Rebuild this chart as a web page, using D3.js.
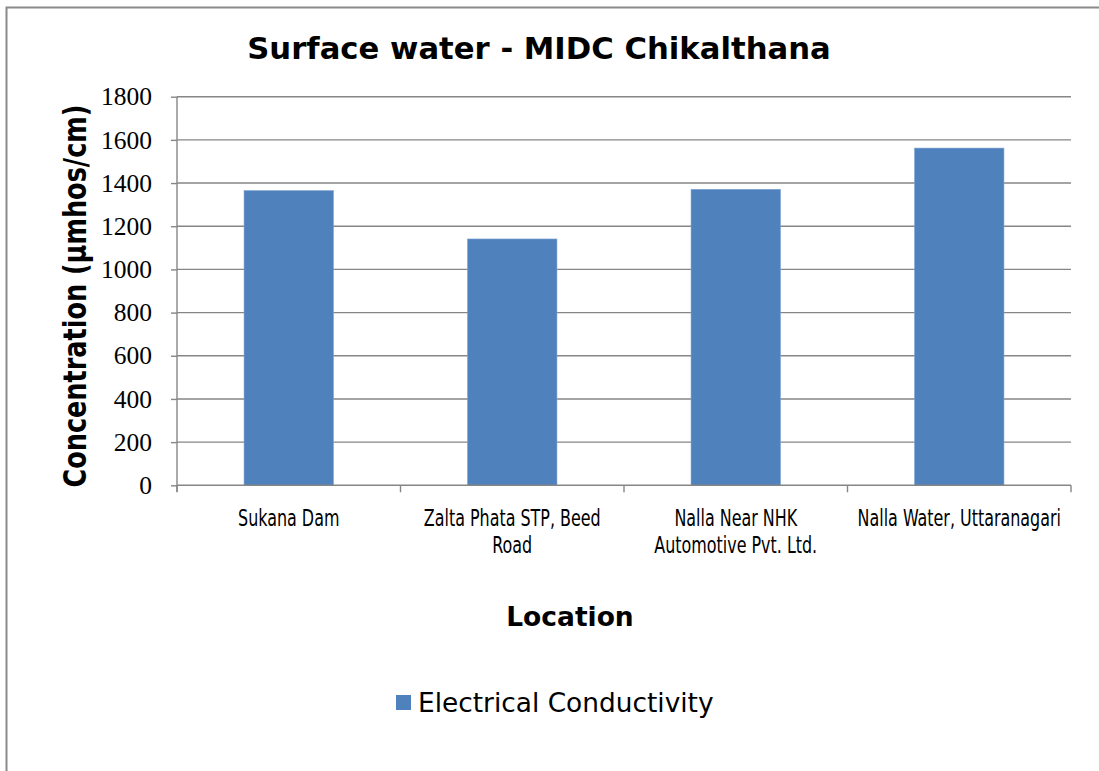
<!DOCTYPE html>
<html>
<head>
<meta charset="utf-8">
<script src="https://cdn.jsdelivr.net/npm/d3@7"></script>
<style>
  html, body { margin: 0; padding: 0; background: #ffffff; }
  svg { display: block; }
</style>
</head>
<body>
<script>
// Sampling locations and measured electrical conductivity (µmhos/cm)
const locations = [
  ["Sukana Dam"],
  ["Zalta Phata STP, Beed", "Road"],
  ["Nalla Near NHK", "Automotive Pvt. Ltd."],
  ["Nalla Water, Uttaranagari"]
];
const conductivity = [1365, 1141, 1371, 1562];
const yTicks = [0, 200, 400, 600, 800, 1000, 1200, 1400, 1600, 1800];
const seriesName = "Electrical Conductivity";
const chartTitle = "Surface water - MIDC Chikalthana";
const xTitle = "Location";
const yTitle = "Concentration (µmhos/cm)";

const W = 1099, H = 771;
const plot = { left: 177, right: 1071, top: 96.7, bottom: 485.3 };
const barColor = "#4F81BD";
const gridColor = "#868686";

const svg = d3.select("body").append("svg")
  .attr("width", W).attr("height", H);

// Chart frame
svg.append("rect")
  .attr("x", 6.5).attr("y", 7.5)
  .attr("width", W + 10).attr("height", H + 10)
  .attr("fill", "#fff")
  .attr("stroke", "#8a8a8a").attr("stroke-width", 2);

const x = d3.scaleBand()
  .domain(d3.range(locations.length))
  .range([plot.left, plot.right])
  .paddingInner(0.6).paddingOuter(0.3);

const y = d3.scaleLinear()
  .domain([0, 1800])
  .range([plot.bottom, plot.top]);

// Horizontal gridlines
svg.append("g").selectAll("line")
  .data(yTicks.filter(t => t > 0))
  .join("line")
  .attr("x1", plot.left).attr("x2", plot.right)
  .attr("y1", d => y(d)).attr("y2", d => y(d))
  .attr("stroke", gridColor).attr("stroke-width", 1.4);

// Bars
svg.append("g").selectAll("rect")
  .data(conductivity)
  .join("rect")
  .attr("x", (d, i) => x(i))
  .attr("width", x.bandwidth())
  .attr("y", d => y(d))
  .attr("height", d => y(0) - y(d))
  .attr("fill", barColor)
  .attr("stroke", "#7fa3d2").attr("stroke-width", 0.6);

// Y axis
const yAxis = d3.axisLeft(y).tickValues(yTicks).tickSize(6).tickPadding(19)
  .tickFormat(d3.format("d"));
const gy = svg.append("g")
  .attr("transform", `translate(${plot.left},0)`)
  .call(yAxis);
gy.select(".domain").remove();
gy.append("line")
  .attr("x1", 0).attr("x2", 0)
  .attr("y1", plot.top).attr("y2", plot.bottom + 6.5)
  .attr("stroke", gridColor).attr("stroke-width", 1.4);
gy.selectAll(".tick line").attr("stroke", gridColor).attr("stroke-width", 1.4);
gy.selectAll(".tick text")
  .attr("fill", "#000")
  .style("font-family", "'Liberation Serif', 'DejaVu Serif', serif")
  .style("font-size", "25.5px");

// X axis baseline and category boundary ticks
const step = x.step();
const boundaries = d3.range(locations.length + 1).map(i => plot.left + i * step);
svg.append("line")
  .attr("x1", plot.left).attr("x2", plot.right)
  .attr("y1", y(0)).attr("y2", y(0))
  .attr("stroke", gridColor).attr("stroke-width", 1.4);
svg.append("g").selectAll("line")
  .data(boundaries)
  .join("line")
  .attr("x1", d => d).attr("x2", d => d)
  .attr("y1", y(0)).attr("y2", y(0) + 7)
  .attr("stroke", gridColor).attr("stroke-width", 1.4);

// Category labels in a narrow face
const catG = svg.append("g").selectAll("g")
  .data(locations)
  .join("g")
  .attr("transform", (d, i) => `translate(${x(i) + x.bandwidth() / 2},${525.5}) scale(0.77,1)`);
catG.selectAll("text")
  .data(d => d)
  .join("text")
  .attr("x", 0)
  .attr("y", (d, j) => j * 28)
  .attr("text-anchor", "middle")
  .style("font-family", "'DejaVu Sans Condensed', 'DejaVu Sans', sans-serif")
  .style("font-stretch", "condensed")
  .style("font-size", "23px")
  .attr("fill", "#000")
  .text(d => d);

// Title
svg.append("text")
  .attr("x", 539).attr("y", 59)
  .attr("text-anchor", "middle")
  .style("font-family", "'DejaVu Sans', sans-serif")
  .style("font-weight", "bold")
  .style("font-size", "30.7px")
  .text(chartTitle);

// Axis titles
svg.append("text")
  .attr("x", 570).attr("y", 626)
  .attr("text-anchor", "middle")
  .style("font-family", "'DejaVu Sans', sans-serif")
  .style("font-weight", "bold")
  .style("font-size", "26.5px")
  .text(xTitle);

svg.append("text")
  .attr("transform", "translate(86,296) rotate(-90)")
  .attr("text-anchor", "middle")
  .attr("textLength", 383)
  .attr("lengthAdjust", "spacingAndGlyphs")
  .style("font-family", "'DejaVu Sans', sans-serif")
  .style("font-weight", "bold")
  .style("font-size", "32px")
  .text(yTitle);

// Legend
const lg = svg.append("g").attr("transform", "translate(396,695)");
lg.append("rect").attr("width", 15).attr("height", 15).attr("fill", barColor);
lg.append("text")
  .attr("x", 22).attr("y", 16.5)
  .style("font-family", "'DejaVu Sans', sans-serif")
  .style("font-size", "26.4px")
  .attr("fill", "#000")
  .text(seriesName);
</script>
</body>
</html>
